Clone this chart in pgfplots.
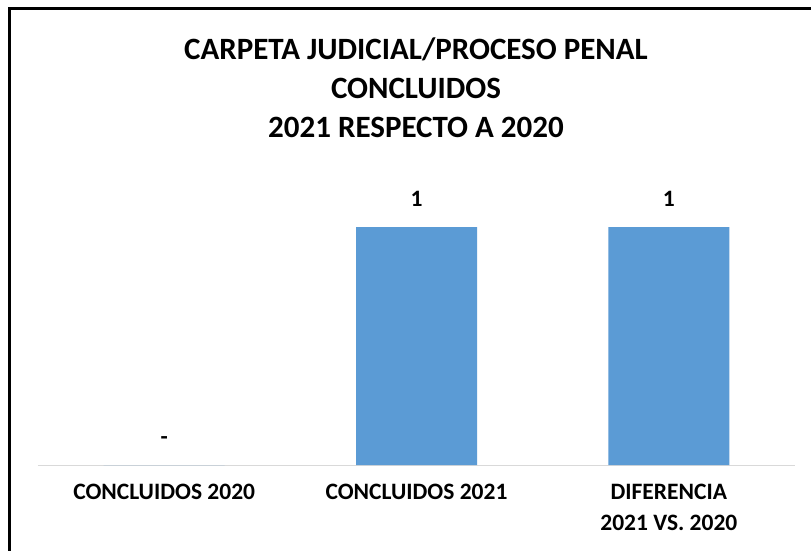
\documentclass[border=0pt]{standalone}
\usepackage{fontspec}
\setmainfont{Carlito}
\usepackage{pgfplots}
\pgfplotsset{compat=1.18}
\definecolor{barblue}{HTML}{5B9BD5}
\definecolor{axgray}{HTML}{D9D9D9}
\begin{document}
\begin{tikzpicture}
\useasboundingbox (0pt,0pt) rectangle (811pt,550pt);
\clip (0pt,0pt) rectangle (811pt,550pt);
\fill[white] (0pt,0pt) rectangle (811pt,550pt);
\draw[line width=3pt] (9.5pt,-10pt) -- (9.5pt,541.5pt) -- (830pt,541.5pt);
\node[font=\bfseries\fontsize{31}{39}\selectfont, align=center] at (416pt,462pt) {CARPETA JUDICIAL/PROCESO PENAL\\CONCLUIDOS\\2021 RESPECTO A 2020};
\begin{axis}[
  at={(38pt,85pt)}, anchor=south west,
  width=757pt, height=238pt, scale only axis,
  xmin=-0.5, xmax=2.5, ymin=0, ymax=1,
  axis x line=bottom, axis y line=none,
  x axis line style={-, draw=axgray, line width=1pt},
  xtick={0,1,2},
  xticklabels={CONCLUIDOS 2020, CONCLUIDOS 2021, {DIFERENCIA\\2021 VS. 2020}},
  major tick length=0pt,
  xticklabel style={font=\bfseries\fontsize{23.5}{31}\selectfont, align=center, yshift=-16pt},
  clip=false,
  ytick=\empty,
]
\addplot[ybar, bar width=121pt, fill=barblue, draw=none,
  point meta=explicit symbolic,
  nodes near coords,
  every node near coord/.append style={font=\bfseries\fontsize{23.5}{28}\selectfont, yshift=17pt}]
  coordinates {(0,0) [-] (1,1) [1] (2,1) [1]};
\end{axis}
\end{tikzpicture}
\end{document}
